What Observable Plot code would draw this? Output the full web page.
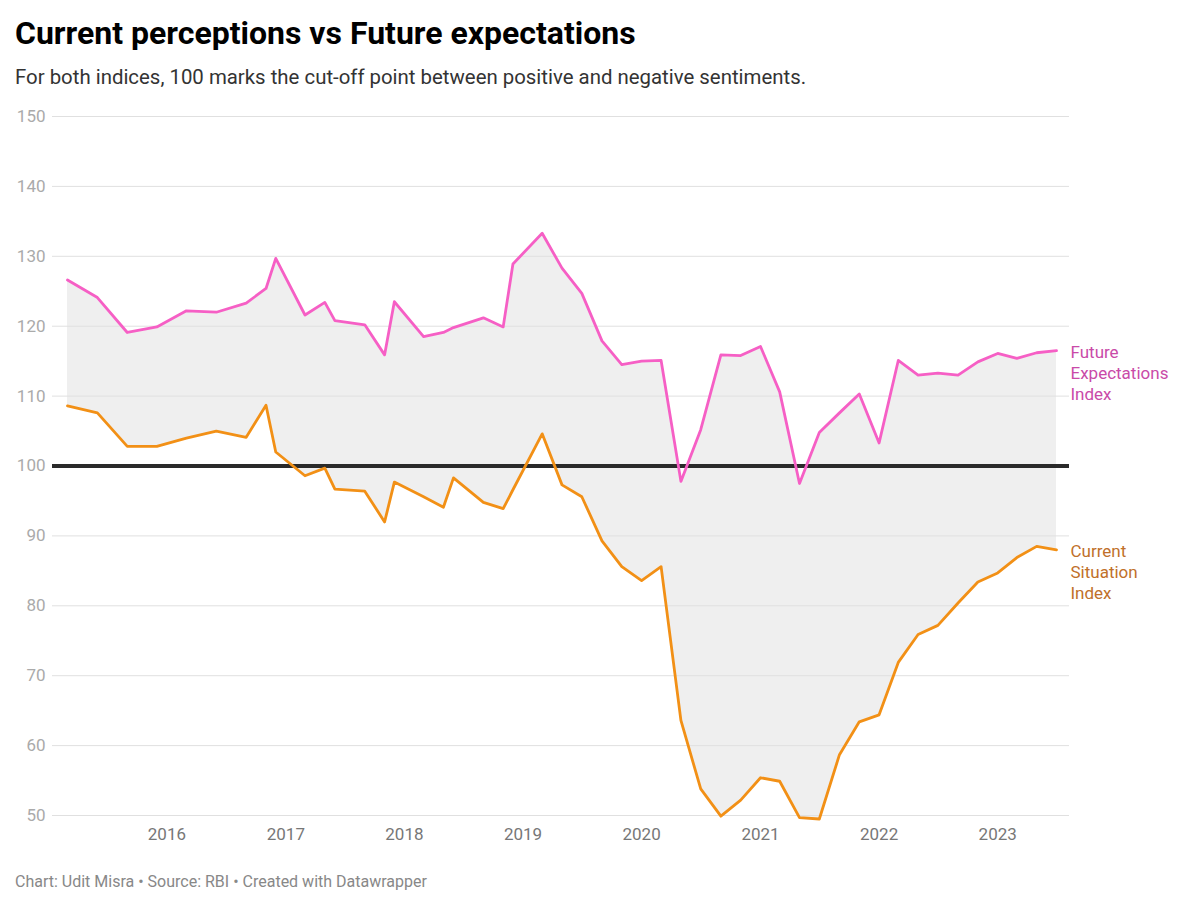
<!DOCTYPE html>
<html><head><meta charset="utf-8">
<script src="https://cdn.jsdelivr.net/npm/d3@7"></script>
<script src="https://cdn.jsdelivr.net/npm/@observablehq/plot@0.6"></script>
<style>
body{margin:0;background:#fff;font-family:Roboto,sans-serif;}
#wrap{position:relative;width:1200px;height:907px;overflow:hidden;}
.title{position:absolute;left:15px;top:17px;font-size:32px;font-weight:700;line-height:1;color:#000;white-space:nowrap;}
.sub{position:absolute;left:15px;top:67px;font-size:20.4px;line-height:1;color:#333;white-space:nowrap;}
#chart{position:absolute;left:0;top:100px;}
.cap{position:absolute;left:15px;top:874px;font-size:16px;line-height:1;color:#888;white-space:nowrap;}
</style></head><body>
<div id="wrap">
<div class="title">Current perceptions vs Future expectations</div>
<div class="sub">For both indices, 100 marks the cut-off point between positive and negative sentiments.</div>
<div id="chart"></div>
<div class="cap">Chart: Udit Misra • Source: RBI • Created with Datawrapper</div>
</div>
<script>
const surveyRounds = ["2015-03","2015-06","2015-09","2015-12","2016-03","2016-06","2016-09","2016-11","2016-12","2017-03","2017-05","2017-06","2017-09","2017-11","2017-12","2018-03","2018-05","2018-06","2018-09","2018-11","2018-12","2019-03","2019-05","2019-07","2019-09","2019-11","2020-01","2020-03","2020-05","2020-07","2020-09","2020-11","2021-01","2021-03","2021-05","2021-07","2021-09","2021-11","2022-01","2022-03","2022-05","2022-07","2022-09","2022-11","2023-01","2023-03","2023-05","2023-07"];
const futureExpectations = [126.6,124.1,119.1,119.9,122.2,122.0,123.3,125.4,129.7,121.6,123.4,120.8,120.2,115.9,123.5,118.5,119.1,119.8,121.2,119.9,128.9,133.3,128.3,124.7,117.9,114.5,115.0,115.1,97.8,105.2,115.9,115.8,117.1,110.6,97.5,104.8,107.6,110.3,103.3,115.1,113.0,113.3,113.0,114.9,116.1,115.4,116.2,116.5];
const currentSituation = [108.6,107.6,102.8,102.8,104.0,105.0,104.1,108.7,102.0,98.6,99.7,96.7,96.4,92.0,97.7,95.6,94.1,98.3,94.8,93.9,96.6,104.6,97.3,95.6,89.3,85.6,83.6,85.6,63.6,53.8,49.9,52.2,55.4,54.9,49.7,49.5,58.7,63.4,64.4,71.9,75.9,77.2,80.4,83.4,84.7,86.9,88.5,88.0];
const yTicks = [50,60,70,80,90,100,110,120,130,140,150];
const yearTicks = [2016,2017,2018,2019,2020,2021,2022,2023];
const cutoff = 100;
const labelFuture = "Future\nExpectations\nIndex";
const labelCurrent = "Current\nSituation\nIndex";

const rows = surveyRounds.map((d,i)=>({date:new Date(d+"-01T00:00:00Z"), fei:futureExpectations[i], csi:currentSituation[i]}));
const last = rows[rows.length-1];
const xTicks = yearTicks.map(y=>new Date(Date.UTC(y,0,1)));

const chart = Plot.plot({
  width:1200, height:760,
  marginLeft:52, marginRight:131, marginTop:16, marginBottom:45,
  style:{fontFamily:"Roboto, sans-serif", fontSize:"17px", background:"transparent", overflow:"visible"},
  x:{type:"utc", domain:[rows[0].date, last.date], insetLeft:15, insetRight:13, label:null},
  y:{domain:[50,150], label:null},
  marks:[
    Plot.areaY(rows,{x:"date", y1:"csi", y2:"fei", fill:"#efefef"}),
    Plot.gridY(yTicks,{stroke:"#e0e0e0", strokeOpacity:1, strokeWidth:1}),
    Plot.ruleY([cutoff],{stroke:"#2a2a2a", strokeWidth:4}),
    Plot.lineY(rows,{x:"date", y:"fei", stroke:"#f65fc5", strokeWidth:2.8}),
    Plot.lineY(rows,{x:"date", y:"csi", stroke:"#f29016", strokeWidth:2.8}),
    Plot.axisY(yTicks,{tickSize:0, tickPadding:7, fill:"#aaa", label:null, fontSize:17}),
    Plot.axisX(xTicks,{tickSize:0, tickPadding:12, fill:"#777", label:null, tickFormat:d3.utcFormat("%Y"), fontSize:17}),
    Plot.text([last],{x:"date", y:"fei", text:()=>labelFuture, dx:14, dy:-8, textAnchor:"start", lineAnchor:"top", lineHeight:1.235, fill:"#c94aa8", fontSize:17}),
    Plot.text([last],{x:"date", y:"csi", text:()=>labelCurrent, dx:14, dy:-8, textAnchor:"start", lineAnchor:"top", lineHeight:1.235, fill:"#c0702a", fontSize:17})
  ]
});
document.getElementById("chart").appendChild(chart);
</script>
</body></html>
